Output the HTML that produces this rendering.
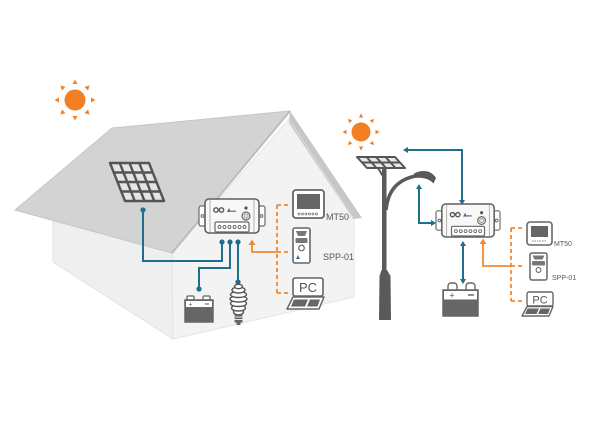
<!DOCTYPE html>
<html><head><meta charset="utf-8"><style>
html,body{margin:0;padding:0;background:#fff;}
svg{display:block;}
text{font-family:"Liberation Sans",sans-serif;}
</style></head><body>
<svg width="600" height="428" viewBox="0 0 600 428" xmlns="http://www.w3.org/2000/svg">
<rect width="600" height="428" fill="#fff"/>

<!-- HOUSE -->
<polygon points="53,205 172,245 173,339 53,262" fill="#efefef" stroke="#e2e2e2" stroke-width="1"/>
<polygon points="172,253 290,118 354,218 354,297 173,339" fill="#f3f3f3" stroke="#e4e4e4" stroke-width="1"/>
<polygon points="290,111 362,218 353,219 289,123" fill="#c7c7c7"/>
<line x1="290" y1="121" x2="353" y2="218" stroke="#dedede" stroke-width="1"/>
<polygon points="112,128 290,111 172,253 15,210" fill="#d3d3d3" stroke="#c6c6c6" stroke-width="1"/>
<line x1="290" y1="111" x2="172" y2="253" stroke="#bcbcbc" stroke-width="2"/>

<!-- Sun 1 -->
<g fill="#f47f20">
<circle cx="75" cy="100" r="10.5"/>
<g transform="translate(75,100)">
<polygon points="-2.5,-16 2.5,-16 0,-20.5"/>
<polygon points="-2.5,16 2.5,16 0,20.5"/>
<polygon points="-16,-2.5 -16,2.5 -20.5,0"/>
<polygon points="16,-2.5 16,2.5 20.5,0"/>
<g transform="rotate(45)">
<polygon points="-2.5,-16 2.5,-16 0,-20.5"/>
<polygon points="-2.5,16 2.5,16 0,20.5"/>
<polygon points="-16,-2.5 -16,2.5 -20.5,0"/>
<polygon points="16,-2.5 16,2.5 20.5,0"/>
</g></g></g>

<!-- Sun 2 -->
<g fill="#f47f20">
<circle cx="361" cy="132" r="9.5"/>
<g transform="translate(361,132)">
<polygon points="-2.2,-14.5 2.2,-14.5 0,-18.5"/>
<polygon points="-2.2,14.5 2.2,14.5 0,18.5"/>
<polygon points="-14.5,-2.2 -14.5,2.2 -18.5,0"/>
<polygon points="14.5,-2.2 14.5,2.2 18.5,0"/>
<g transform="rotate(45)">
<polygon points="-2.2,-14.5 2.2,-14.5 0,-18.5"/>
<polygon points="-2.2,14.5 2.2,14.5 0,18.5"/>
<polygon points="-14.5,-2.2 -14.5,2.2 -18.5,0"/>
<polygon points="14.5,-2.2 14.5,2.2 18.5,0"/>
</g></g></g>

<!-- Panel on roof -->
<g stroke="#555" stroke-width="2.4" stroke-linejoin="round" fill="none">
<polygon points="110,163 149,163 164,201 125,201" fill="#e4e4e4"/>
<line x1="119.75" y1="163" x2="134.75" y2="201"/>
<line x1="129.5" y1="163" x2="144.5" y2="201"/>
<line x1="139.25" y1="163" x2="154.25" y2="201"/>
<line x1="113.75" y1="172.5" x2="152.75" y2="172.5"/>
<line x1="117.5" y1="182" x2="156.5" y2="182"/>
<line x1="121.25" y1="191.5" x2="160.25" y2="191.5"/>
</g>

<!-- Blue wires house -->
<g stroke="#1f6e8c" stroke-width="2" fill="none">
<polyline points="143,210 143,261 222,261 222,242"/>
<polyline points="199,289 199,268 230,268 230,242"/>
<polyline points="238,282 238,242"/>
</g>
<g fill="#1f6e8c">
<circle cx="143" cy="210" r="2.6"/><circle cx="222" cy="242" r="2.6"/>
<circle cx="230" cy="242" r="2.6"/><circle cx="238" cy="242" r="2.6"/>
<circle cx="199" cy="289" r="2.6"/><circle cx="238" cy="282" r="2.6"/>
</g>

<!-- Orange house -->
<g stroke="#f08a32" stroke-width="1.8" fill="none">
<polyline points="252,244 252,252 277,252"/>
<g stroke-dasharray="4,3">
<line x1="277" y1="205" x2="277" y2="293"/>
<line x1="277" y1="205" x2="289" y2="205"/>
<line x1="277" y1="252" x2="289" y2="252"/>
<line x1="277" y1="293" x2="289" y2="293"/>
</g></g>
<polygon points="248.5,245 255.5,245 252,239.5" fill="#f08a32"/>

<!-- Controller 1 -->
<g transform="translate(199,199)">
<rect x="0" y="7" width="8" height="20" rx="2" fill="#fff" stroke="#6a6a6a" stroke-width="1.2"/>
<rect x="58" y="7" width="8" height="20" rx="2" fill="#fff" stroke="#6a6a6a" stroke-width="1.2"/>
<circle cx="3.5" cy="17" r="1.4" fill="none" stroke="#6a6a6a"/>
<circle cx="62.5" cy="17" r="1.4" fill="none" stroke="#6a6a6a"/>
<rect x="6" y="0" width="54" height="34" rx="4" fill="#f8f8f8" stroke="#5f5f5f" stroke-width="1.6"/>
<line x1="11" y1="1" x2="11" y2="33" stroke="#a0a0a0" stroke-width="0.8"/>
<line x1="55" y1="1" x2="55" y2="33" stroke="#a0a0a0" stroke-width="0.8"/>
<circle cx="17" cy="11" r="2.2" fill="none" stroke="#555" stroke-width="1.4"/>
<circle cx="22.5" cy="11" r="2.2" fill="none" stroke="#555" stroke-width="1.4"/>
<path d="M28,13 l2,-4 l2,4 z" fill="#3a6fa0"/><rect x="31" y="11.5" width="6" height="1.5" fill="#888"/>
<circle cx="47" cy="9" r="1.6" fill="#555"/>
<circle cx="47" cy="17" r="4" fill="#eee" stroke="#666" stroke-width="1.2"/>
<circle cx="47" cy="17" r="2" fill="none" stroke="#888" stroke-width="0.8"/>
<rect x="16" y="23" width="34" height="10" rx="1.5" fill="#fff" stroke="#666" stroke-width="1.2"/>
<g fill="none" stroke="#666" stroke-width="0.9">
<circle cx="20.5" cy="28" r="1.5"/><circle cx="25.5" cy="28" r="1.5"/><circle cx="30.5" cy="28" r="1.5"/>
<circle cx="35.5" cy="28" r="1.5"/><circle cx="40.5" cy="28" r="1.5"/><circle cx="45.5" cy="28" r="1.5"/>
</g></g>

<!-- MT50 house -->
<rect x="293" y="190" width="31" height="28" rx="3" fill="#fff" stroke="#666" stroke-width="1.8"/>
<rect x="297" y="194" width="23" height="15" fill="#666"/>
<g fill="none" stroke="#777" stroke-width="0.8">
<circle cx="299" cy="214" r="1"/><circle cx="302.5" cy="214" r="1"/><circle cx="306" cy="214" r="1"/>
<circle cx="309.5" cy="214" r="1"/><circle cx="313" cy="214" r="1"/><circle cx="316.5" cy="214" r="1"/>
</g>
<text x="326" y="220" font-size="9" fill="#555">MT50</text>

<!-- SPP-01 house -->
<rect x="293" y="228" width="17" height="35" rx="2" fill="#fff" stroke="#666" stroke-width="1.6"/>
<path d="M296,231 h11 l-2,5 h-7 z" fill="#777"/>
<rect x="295.5" y="238" width="12" height="5" rx="1" fill="#777"/>
<circle cx="301.5" cy="248" r="2.8" fill="#fff" stroke="#666" stroke-width="1.2"/>
<path d="M296,259 l2,-4 l2,4 z" fill="#3a6fa0"/>
<text x="323" y="260" font-size="9" fill="#555">SPP-01</text>

<!-- PC house -->
<rect x="293" y="278" width="30" height="18" rx="2" fill="#fff" stroke="#666" stroke-width="1.6"/>
<text x="308" y="292" font-size="13" fill="#555" text-anchor="middle">PC</text>
<polygon points="293,297 324,297 319,309 287,309" fill="#fff" stroke="#666" stroke-width="1.5" stroke-linejoin="round"/>
<polygon points="294,299.5 308,299.5 305,306.5 291,306.5" fill="#666"/>
<polygon points="310,299.5 320,299.5 317.5,306.5 307,306.5" fill="#666"/>

<!-- Battery house -->
<rect x="187" y="296" width="7" height="4" rx="1" fill="#fff" stroke="#666" stroke-width="1.3"/>
<rect x="203" y="296" width="7" height="4" rx="1" fill="#fff" stroke="#666" stroke-width="1.3"/>
<rect x="185" y="300" width="28" height="22" fill="#666" stroke="#666" stroke-width="1.5"/>
<rect x="186" y="301" width="26" height="6" fill="#fff"/>
<text x="190.5" y="306.5" font-size="7" fill="#555" text-anchor="middle">+</text>
<line x1="205" y1="304" x2="209" y2="304" stroke="#555" stroke-width="1"/>

<!-- Bulb -->
<g stroke="#555" stroke-width="1.4" fill="#fff">
<ellipse cx="238.5" cy="312" rx="5" ry="2.8"/>
<ellipse cx="238.5" cy="308" rx="7" ry="3"/>
<ellipse cx="238.5" cy="303.5" rx="8" ry="3"/>
<ellipse cx="238.5" cy="299" rx="8.5" ry="3"/>
<ellipse cx="238.5" cy="294.5" rx="8" ry="3"/>
<ellipse cx="238.5" cy="290" rx="6.5" ry="3"/>
<ellipse cx="238.5" cy="286.5" rx="4" ry="2.2"/>
</g>
<rect x="234.5" y="314.5" width="8" height="8" fill="#666"/>
<g stroke="#fff" stroke-width="0.8"><line x1="234.5" y1="317" x2="242.5" y2="317"/><line x1="234.5" y1="319.5" x2="242.5" y2="319.5"/></g>
<rect x="236.5" y="322.5" width="4" height="2.5" fill="#666"/>

<!-- STREET LAMP -->
<g stroke="#555" stroke-width="2" stroke-linejoin="round" fill="none">
<polygon points="357,157 395,157 405,168 367,168" fill="#e8e8e8"/>
<line x1="366.5" y1="157" x2="376.5" y2="168"/>
<line x1="376" y1="157" x2="386" y2="168"/>
<line x1="385.5" y1="157" x2="395.5" y2="168"/>
<line x1="362" y1="162.5" x2="400" y2="162.5"/>
</g>
<line x1="378" y1="168" x2="384" y2="178" stroke="#5a5a5a" stroke-width="2"/>
<rect x="382" y="167" width="4.5" height="106" fill="#5a5a5a"/>
<polygon points="381.5,270 387,270 390.5,276 391,320 379,320 379.5,276" fill="#5a5a5a"/>
<path d="M386,210 C388,190 398,178 421,175" stroke="#5a5a5a" stroke-width="3.5" fill="none"/>
<path d="M414,173.5 C422,169.5 431,170 436,178 L433.5,183.5 C429,178.5 422,177 414,178 Z" fill="#5a5a5a"/>

<!-- Blue lamp wires -->
<g stroke="#1f6e8c" stroke-width="2" fill="none">
<polyline points="407,150 462,150 462,201"/>
<polyline points="419,188 419,223 432,223"/>
<line x1="463" y1="245" x2="463" y2="280"/>
</g>
<g fill="#1f6e8c">
<polygon points="403,150 408,147 408,153"/>
<polygon points="462,205 459,200 465,200"/>
<polygon points="419,184 416,189 422,189"/>
<polygon points="436,223 431,220 431,226"/>
<polygon points="463,241 460,246 466,246"/>
<polygon points="463,284 460,279 466,279"/>
</g>

<!-- Controller 2 -->
<g transform="translate(436,204) scale(0.97)">
<rect x="0" y="7" width="8" height="20" rx="2" fill="#fff" stroke="#6a6a6a" stroke-width="1.2"/>
<rect x="58" y="7" width="8" height="20" rx="2" fill="#fff" stroke="#6a6a6a" stroke-width="1.2"/>
<circle cx="3.5" cy="17" r="1.4" fill="none" stroke="#6a6a6a"/>
<circle cx="62.5" cy="17" r="1.4" fill="none" stroke="#6a6a6a"/>
<rect x="6" y="0" width="54" height="34" rx="4" fill="#f8f8f8" stroke="#5f5f5f" stroke-width="1.6"/>
<line x1="11" y1="1" x2="11" y2="33" stroke="#a0a0a0" stroke-width="0.8"/>
<line x1="55" y1="1" x2="55" y2="33" stroke="#a0a0a0" stroke-width="0.8"/>
<circle cx="17" cy="11" r="2.2" fill="none" stroke="#555" stroke-width="1.4"/>
<circle cx="22.5" cy="11" r="2.2" fill="none" stroke="#555" stroke-width="1.4"/>
<path d="M28,13 l2,-4 l2,4 z" fill="#3a6fa0"/><rect x="31" y="11.5" width="6" height="1.5" fill="#888"/>
<circle cx="47" cy="9" r="1.6" fill="#555"/>
<circle cx="47" cy="17" r="4" fill="#eee" stroke="#666" stroke-width="1.2"/>
<circle cx="47" cy="17" r="2" fill="none" stroke="#888" stroke-width="0.8"/>
<rect x="16" y="23" width="34" height="10" rx="1.5" fill="#fff" stroke="#666" stroke-width="1.2"/>
<g fill="none" stroke="#666" stroke-width="0.9">
<circle cx="20.5" cy="28" r="1.5"/><circle cx="25.5" cy="28" r="1.5"/><circle cx="30.5" cy="28" r="1.5"/>
<circle cx="35.5" cy="28" r="1.5"/><circle cx="40.5" cy="28" r="1.5"/><circle cx="45.5" cy="28" r="1.5"/>
</g></g>

<!-- Orange lamp -->
<g stroke="#f08a32" stroke-width="1.8" fill="none">
<polyline points="483,243 483,266 511,266"/>
<g stroke-dasharray="4,3">
<line x1="511" y1="228" x2="511" y2="301"/>
<line x1="511" y1="228" x2="525" y2="228"/>
<line x1="511" y1="266" x2="525" y2="266"/>
<line x1="511" y1="301" x2="525" y2="301"/>
</g></g>
<polygon points="479.5,244 486.5,244 483,238.5" fill="#f08a32"/>

<!-- Battery 2 -->
<path d="M448,290 v-4 a3,3 0 0 1 3,-3 h3 a3,3 0 0 1 3,3 v4" fill="#fff" stroke="#666" stroke-width="1.4"/>
<path d="M466,290 v-4 a3,3 0 0 1 3,-3 h3 a3,3 0 0 1 3,3 v4" fill="#fff" stroke="#666" stroke-width="1.4"/>
<rect x="443" y="290" width="35" height="26" fill="#666" stroke="#666" stroke-width="1.5"/>
<rect x="444" y="291" width="33" height="8.5" fill="#fff"/>
<text x="452" y="298.5" font-size="9" fill="#555" text-anchor="middle">+</text>
<line x1="468" y1="295" x2="474" y2="295" stroke="#555" stroke-width="1.3"/>

<!-- MT50 right -->
<rect x="527" y="222" width="25" height="23" rx="3" fill="#fff" stroke="#666" stroke-width="1.6"/>
<rect x="531" y="226" width="17" height="11" fill="#666"/>
<line x1="532" y1="241" x2="547" y2="241" stroke="#888" stroke-width="1" stroke-dasharray="1.5,1"/>
<text x="554" y="246" font-size="7" fill="#555">MT50</text>

<!-- SPP-01 right -->
<rect x="530" y="253" width="17" height="27" rx="2" fill="#fff" stroke="#666" stroke-width="1.5"/>
<path d="M532.5,255.5 h12 l-2,4 h-8 z" fill="#777"/>
<rect x="532" y="261" width="13" height="4.5" rx="1" fill="#777"/>
<circle cx="538.5" cy="270" r="2.4" fill="#fff" stroke="#666" stroke-width="1.1"/>
<text x="552" y="280" font-size="7" fill="#555">SPP-01</text>

<!-- PC right -->
<rect x="527" y="292" width="26" height="14" rx="2" fill="#fff" stroke="#666" stroke-width="1.4"/>
<text x="540" y="303.5" font-size="11" fill="#555" text-anchor="middle">PC</text>
<polygon points="527,306.5 553,306.5 549,316 522,316" fill="#fff" stroke="#666" stroke-width="1.4" stroke-linejoin="round"/>
<polygon points="527.5,308.5 539,308.5 536.5,314 525,314" fill="#666"/>
<polygon points="540.5,308.5 550,308.5 548,314 538,314" fill="#666"/>
</svg>
</body></html>
